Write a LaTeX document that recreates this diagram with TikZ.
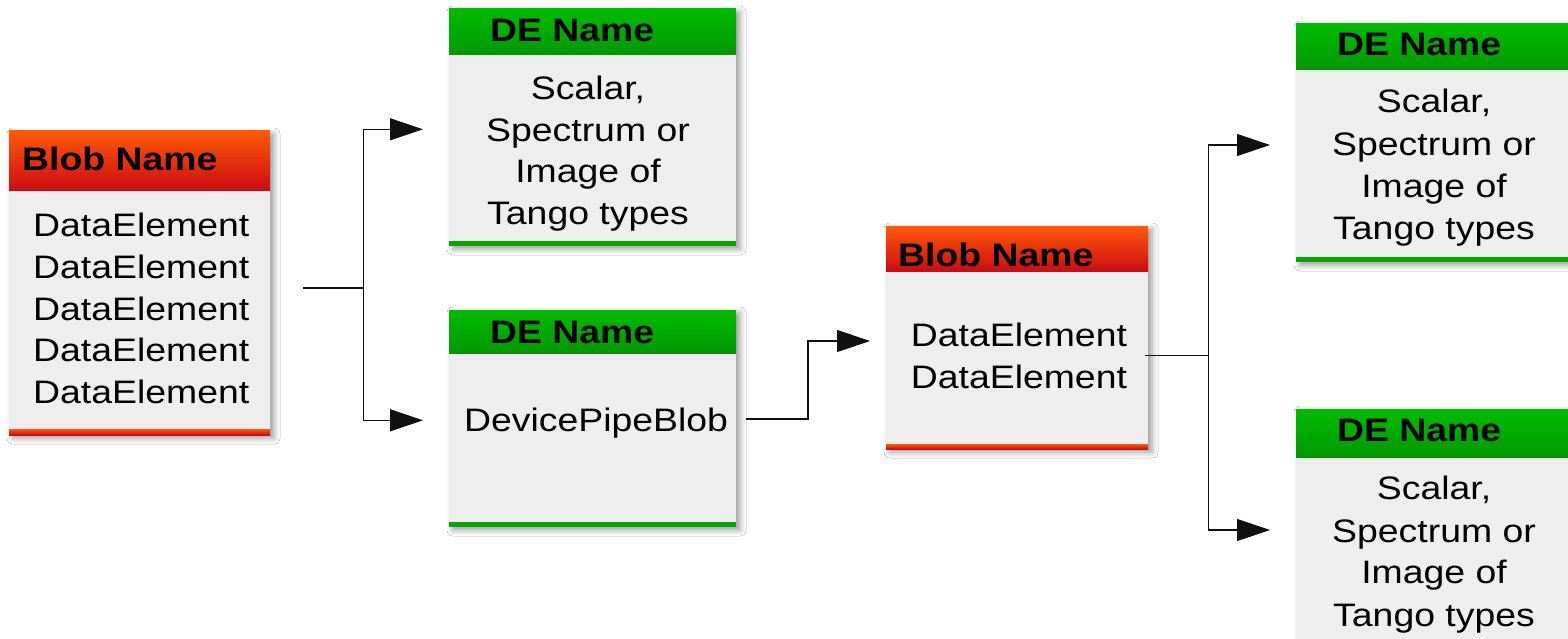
\documentclass[tikz,border=0pt]{standalone}
\usepackage{fontspec}
\setmainfont{Liberation Sans}[FakeStretch=1.15]
\usetikzlibrary{arrows.meta,shadows.blur}

\definecolor{blobTop}{HTML}{FF5A08}
\definecolor{blobBot}{HTML}{CC0A12}
\definecolor{deTop}{HTML}{00BC00}
\definecolor{deBot}{HTML}{009800}
\definecolor{deBar}{HTML}{00A800}
\definecolor{bodyGray}{HTML}{EEEEEE}
\definecolor{wire}{HTML}{111111}

\tikzset{
  panel/.style={fill=bodyGray, inner sep=0pt, outer sep=0pt, anchor=north west,
    blur shadow={shadow xshift=4pt, shadow yshift=-3pt, shadow blur radius=6pt, shadow opacity=40}},
  blobhead/.style={top color=blobTop, bottom color=blobBot},
  blobbar/.style={top color=blobTop, bottom color=blobBot},
  dehead/.style={top color=deTop, bottom color=deBot},
  debar/.style={fill=deBar},
  headtxt/.style={font=\fontsize{32.5}{38}\selectfont\bfseries, inner sep=0pt, anchor=base west},
  bodytxt/.style={font=\fontsize{32.5}{41.7}\selectfont, inner sep=0pt},
  wireline/.style={draw=wire, line width=1.2pt},
  wirearrow/.style={draw=wire, line width=1.2pt, -{Triangle[length=33pt, width=22pt]}},
}

\begin{document}
\begin{tikzpicture}[x=1pt, y=-1pt]
  \clip (0,0) rectangle (1568,639);
  \fill[white] (0,0) rectangle (1568,639);

  % ---- left blob ----
  \node[panel, minimum width=261pt, minimum height=304pt] (blobA) at (9,131) {};
  \fill[blobhead] (blobA.north west) rectangle ++(261,60);
  \fill[blobbar] (blobA.south west) rectangle ++(261,-6);
  \node[headtxt] (blobA-title) at (22,170.7) {Blob Name};
  \foreach \i/\yy in {1/236.7, 2/278.4, 3/320.1, 4/361.8, 5/403.5}
    \node[bodytxt, anchor=base west] (blobA-de\i) at (33,\yy) {DataElement};

  % ---- upper data element ----
  \node[panel, minimum width=287pt, minimum height=237pt] (deB) at (449,9) {};
  \fill[dehead] (deB.north west) rectangle ++(287,46);
  \fill[debar] (deB.south west) rectangle ++(287,-5);
  \node[headtxt] (deB-title) at (490,41.5) {DE Name};
  \foreach \i/\yy/\t in {1/100/{Scalar,}, 2/141.5/{Spectrum or}, 3/183/{Image of}, 4/224.5/{Tango types}}
    \node[bodytxt, anchor=base] (deB-l\i) at (588,\yy) {\t};

  % ---- pipe blob data element ----
  \node[panel, minimum width=287pt, minimum height=217pt] (deC) at (449,310) {};
  \fill[dehead] (deC.north west) rectangle ++(287,43);
  \fill[debar] (deC.south west) rectangle ++(287,-5);
  \node[headtxt] (deC-title) at (490,343) {DE Name};
  \node[bodytxt, anchor=base west] (deC-txt) at (464,431.5) {DevicePipeBlob};

  % ---- nested blob ----
  \node[panel, minimum width=262pt, minimum height=223pt] (blobD) at (886,226) {};
  \fill[blobhead] (blobD.north west) rectangle ++(262,45);
  \fill[blobbar] (blobD.south west) rectangle ++(262,-5);
  \node[headtxt] (blobD-title) at (898,266.7) {Blob Name};
  \node[bodytxt, anchor=base west] (blobD-de1) at (910.7,346.7) {DataElement};
  \node[bodytxt, anchor=base west] (blobD-de2) at (910.7,388.3) {DataElement};

  % ---- right data elements ----
  \node[panel, minimum width=287pt, minimum height=238pt] (deE) at (1296,24) {};
  \fill[dehead] (deE.north west) rectangle ++(287,46);
  \fill[debar] (deE.south west) rectangle ++(287,-5);
  \node[headtxt] (deE-title) at (1337,55.5) {DE Name};
  \foreach \i/\yy/\t in {1/113/{Scalar,}, 2/156/{Spectrum or}, 3/198/{Image of}, 4/240/{Tango types}}
    \node[bodytxt, anchor=base] (deE-l\i) at (1434,\yy) {\t};

  \node[panel, minimum width=287pt, minimum height=300pt] (deF) at (1296,409) {};
  \fill[dehead] (deF.north west) rectangle ++(287,48);
  \node[headtxt] (deF-title) at (1337,441.5) {DE Name};
  \foreach \i/\yy/\t in {1/499/{Scalar,}, 2/542/{Spectrum or}, 3/583/{Image of}, 4/626/{Tango types}}
    \node[bodytxt, anchor=base] (deF-l\i) at (1434,\yy) {\t};

  % ---- connectors ----
  \coordinate (a-out) at (303,288);
  \coordinate (a-fork) at (363.3,288);
  \coordinate (b-in) at (423,129.3);
  \coordinate (c-in) at (423,420.3);
  \draw[wireline] (a-out) -- (a-fork);
  \draw[wirearrow] (a-fork) |- (b-in);
  \draw[wirearrow] (a-fork) |- (c-in);

  \coordinate (c-out) at (746,419);
  \coordinate (c-bend) at (808,419);
  \coordinate (d-in) at (870,341);
  \draw[wirearrow] (c-out) -- (c-bend) |- (d-in);

  \coordinate (d-out) at (1145,355.7);
  \coordinate (d-fork) at (1208.3,355.7);
  \coordinate (e-in) at (1270,145);
  \coordinate (f-in) at (1270,530);
  \draw[wireline] (d-out) -- (d-fork);
  \draw[wirearrow] (d-fork) |- (e-in);
  \draw[wirearrow] (d-fork) |- (f-in);
\end{tikzpicture}
\end{document}
